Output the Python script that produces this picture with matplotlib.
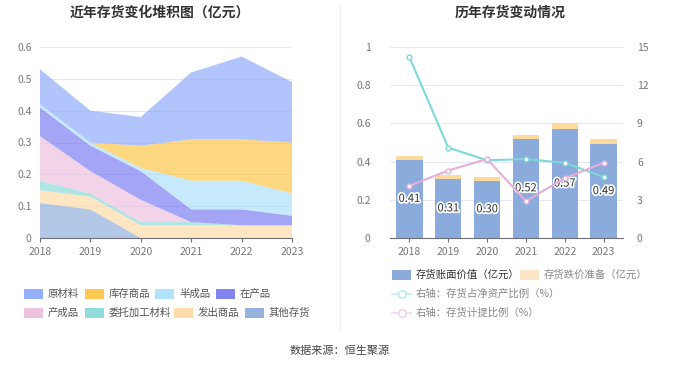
import matplotlib
matplotlib.use('Agg')
import matplotlib.pyplot as plt
import matplotlib.patheffects as pe
from matplotlib.lines import Line2D
import numpy as np

plt.rcParams['font.family'] = ['Noto Sans CJK SC', 'DejaVu Sans']

years = ['2018', '2019', '2020', '2021', '2022', '2023']

# stacked area pieces (亿元), bottom to top
other = [0.11, 0.09, 0.00, 0.00, 0.00, 0.00]
shipped = [0.04, 0.04, 0.04, 0.04, 0.04, 0.04]
consigned = [0.03, 0.01, 0.01, 0.01, 0.00, 0.00]
finished = [0.14, 0.07, 0.07, 0.00, 0.00, 0.00]
wip = [0.09, 0.08, 0.09, 0.04, 0.05, 0.03]
semi = [0.01, 0.01, 0.01, 0.09, 0.09, 0.07]
goods = [0.00, 0.00, 0.07, 0.13, 0.13, 0.16]
raw = [0.11, 0.10, 0.09, 0.21, 0.26, 0.19]

# right chart
book_value = [0.41, 0.31, 0.30, 0.52, 0.57, 0.49]
impairment = [0.02, 0.02, 0.02, 0.02, 0.03, 0.03]
pct_net_assets = [14.2, 7.1, 6.1, 6.2, 5.9, 4.8]
pct_provision = [4.1, 5.3, 6.2, 2.9, 4.7, 5.9]

area_series = [
    ('其他存货', other, '#8aabdb'),
    ('发出商品', shipped, '#fdd9a0'),
    ('委托加工材料', consigned, '#84d8d8'),
    ('产成品', finished, '#ebbcdc'),
    ('在产品', wip, '#7476f0'),
    ('半成品', semi, '#a8e0fb'),
    ('库存商品', goods, '#fdc43e'),
    ('原材料', raw, '#87a6fb'),
]

fig = plt.figure(figsize=(6.8, 3.67), dpi=100)
W, H = 680, 367

def ax_rect(x0, y0, x1, y1):
    return [x0 / W, 1 - y1 / H, (x1 - x0) / W, (y1 - y0) / H]

grid_c = '#e3e8f3'
tick_c = '#777777'

# ---- left: stacked area
ax1 = fig.add_axes(ax_rect(40, 47, 292, 238))
x = np.arange(len(years))
ax1.stackplot(x, *[s[1] for s in area_series],
              colors=[s[2] for s in area_series], alpha=0.65, linewidth=0)
ax1.set_xlim(0, len(years) - 1)
ax1.set_ylim(0, 0.6)
ax1.set_yticks([0, 0.1, 0.2, 0.3, 0.4, 0.5, 0.6])
ax1.set_yticklabels(['0', '0.1', '0.2', '0.3', '0.4', '0.5', '0.6'])
ax1.set_xticks(x)
ax1.set_xticklabels(years)
for sp in ['top', 'right', 'left']:
    ax1.spines[sp].set_visible(False)
ax1.spines['bottom'].set_color('#6e7079')
ax1.yaxis.grid(True, color=grid_c, linewidth=0.8)
ax1.set_axisbelow(True)
ax1.tick_params(axis='y', length=0, labelsize=7.5, colors=tick_c, pad=6)
ax1.tick_params(axis='x', length=3, labelsize=7.5, colors=tick_c, color='#6e7079')

fig.text(160 / W, 1 - 13 / H, '近年存货变化堆积图（亿元）', ha='center', va='center',
         fontsize=10, fontweight='bold', color='#333333')

# legend for left
leg_order = ['原材料', '库存商品', '半成品', '在产品', '产成品', '委托加工材料', '发出商品', '其他存货']
cmap = {s[0]: s[2] for s in area_series}
leg_pos = [(24, 294), (85, 294), (155, 294), (216, 294),
           (24, 313), (85, 313), (174, 313), (245, 313)]
for name, (px, py) in zip(leg_order, leg_pos):
    fig.patches.append(plt.Rectangle((px / W, 1 - (py + 5) / H), 19 / W, 10 / H,
                                     transform=fig.transFigure, color=cmap[name],
                                     alpha=0.9, linewidth=0))
    fig.text((px + 24) / W, 1 - py / H, name, ha='left', va='center',
             fontsize=7.5, color='#555555')

# divider
fig.add_artist(Line2D([340 / W, 340 / W], [1 - 5 / H, 1 - 330 / H],
                      color='#eeeeee', linewidth=1, transform=fig.transFigure))

# ---- right: bars + lines
ax2 = fig.add_axes(ax_rect(390, 47, 623, 238))
ax2.bar(x, book_value, width=0.68, color='#8aabdb')
ax2.bar(x, impairment, width=0.68, bottom=book_value, color='#fdd99c')
ax2.set_xlim(-0.5, len(years) - 0.5)
ax2.set_ylim(0, 1)
ax2.set_yticks([0, 0.2, 0.4, 0.6, 0.8, 1])
ax2.set_yticklabels(['0', '0.2', '0.4', '0.6', '0.8', '1'])
ax2.set_xticks(x)
ax2.set_xticklabels(years)
for sp in ['top', 'right', 'left']:
    ax2.spines[sp].set_visible(False)
ax2.spines['bottom'].set_color('#6e7079')
ax2.yaxis.grid(True, color=grid_c, linewidth=0.8)
ax2.set_axisbelow(True)
ax2.tick_params(axis='y', length=0, labelsize=7.5, colors=tick_c, pad=14)
ax2.tick_params(axis='x', length=3, labelsize=7.5, colors=tick_c, color='#6e7079')

for xi, v in zip(x, book_value):
    ax2.text(xi, v / 2, f'{v:.2f}', ha='center', va='center', fontsize=8,
             color='#333333',
             path_effects=[pe.withStroke(linewidth=2.5, foreground='white')])

ax3 = ax2.twinx()
ax3.plot(x, pct_net_assets, color='#7dd8d8', linewidth=1.5, marker='o',
         markersize=3.5, markerfacecolor='white', markeredgewidth=1)
ax3.plot(x, pct_provision, color='#e6aedb', linewidth=1.5, marker='o',
         markersize=3.5, markerfacecolor='white', markeredgewidth=1)
ax3.set_ylim(0, 15)
ax3.set_yticks([0, 3, 6, 9, 12, 15])
for sp in ['top', 'right', 'left', 'bottom']:
    ax3.spines[sp].set_visible(False)
ax3.tick_params(axis='y', length=0, labelsize=7.5, colors=tick_c, pad=10)

fig.text(510 / W, 1 - 13 / H, '历年存货变动情况', ha='center', va='center',
         fontsize=10, fontweight='bold', color='#333333')

# right legend
fig.patches.append(plt.Rectangle((392 / W, 1 - 280 / H), 19 / W, 10 / H,
                                 transform=fig.transFigure, color='#8aabdb', linewidth=0))
fig.text(416 / W, 1 - 275 / H, '存货账面价值（亿元）', ha='left', va='center',
         fontsize=7.5, color='#333333')
fig.patches.append(plt.Rectangle((520 / W, 1 - 280 / H), 19 / W, 10 / H,
                                 transform=fig.transFigure, color='#fde6c6', linewidth=0))
fig.text(544 / W, 1 - 275 / H, '存货跌价准备（亿元）', ha='left', va='center',
         fontsize=7.5, color='#888888')
for py, c, label in [(294, '#bfeeee', '右轴：存货占净资产比例（%）'),
                     (313, '#f3d4ec', '右轴：存货计提比例（%）')]:
    fig.add_artist(Line2D([392 / W, 411 / W], [1 - py / H, 1 - py / H], color=c,
                          linewidth=1.2, transform=fig.transFigure))
    fig.add_artist(Line2D([401.5 / W], [1 - py / H], color=c, marker='o',
                          markersize=5.5, markerfacecolor='white', markeredgewidth=1.2,
                          linestyle='none', transform=fig.transFigure))
    fig.text(416 / W, 1 - py / H, label, ha='left', va='center',
             fontsize=7.5, color='#888888')

fig.text(340 / W, 1 - 351 / H, '数据来源：恒生聚源', ha='center', va='center',
         fontsize=8, color='#444444')

fig.savefig('out.png', dpi=100)
